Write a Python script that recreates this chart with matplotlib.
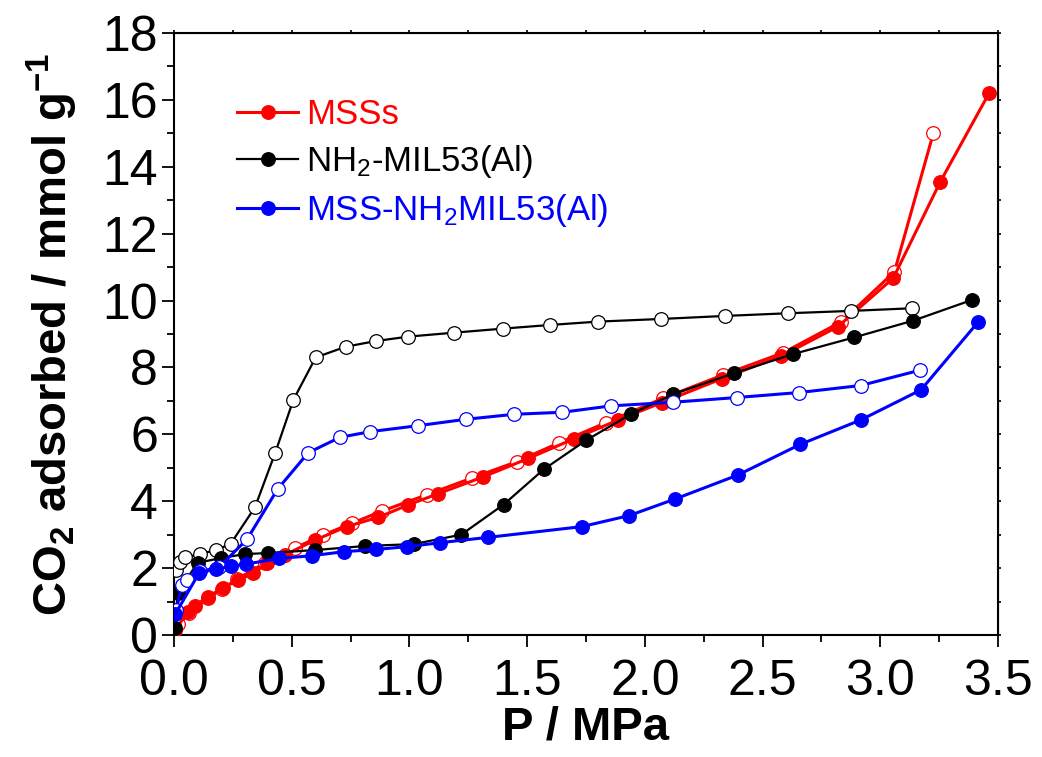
import matplotlib
matplotlib.use("Agg")
import matplotlib.pyplot as plt
from matplotlib.ticker import MultipleLocator

plt.rcParams['font.family'] = ['Liberation Sans', 'DejaVu Sans']
plt.rcParams['mathtext.default'] = 'regular'

# MSSs
mss_ads_p = [0.005, 0.06, 0.09, 0.146, 0.21, 0.273, 0.337, 0.393, 0.47, 0.60, 0.733, 0.868,
             0.995, 1.12, 1.314, 1.505, 1.697, 1.887, 2.072, 2.326, 2.58, 2.82, 3.055, 3.254, 3.462]
mss_ads_q = [0.15, 0.70, 0.88, 1.15, 1.42, 1.64, 1.84, 2.14, 2.39, 2.84, 3.24, 3.52,
             3.89, 4.22, 4.73, 5.28, 5.86, 6.43, 6.95, 7.66, 8.34, 9.22, 10.67, 13.54, 16.2]
mss_des_p = [0.018, 0.065, 0.146, 0.203, 0.266, 0.387, 0.512, 0.634, 0.755, 0.885, 1.073,
             1.264, 1.455, 1.637, 1.835, 2.078, 2.333, 2.588, 2.835, 3.06, 3.226]
mss_des_q = [0.32, 0.65, 1.10, 1.37, 1.66, 2.16, 2.60, 2.99, 3.34, 3.71, 4.19,
             4.69, 5.18, 5.75, 6.35, 7.08, 7.78, 8.44, 9.37, 10.86, 15.02]

# NH2-MIL53(Al)
mil_ads_p = [0.005, 0.015, 0.10, 0.20, 0.30, 0.40, 0.60, 0.81, 1.02, 1.22, 1.40, 1.57,
             1.75, 1.94, 2.12, 2.38, 2.63, 2.89, 3.14, 3.39]
mil_ads_q = [0.20, 1.25, 2.16, 2.30, 2.42, 2.45, 2.54, 2.66, 2.72, 3.00, 3.90, 4.95,
             5.82, 6.60, 7.20, 7.83, 8.40, 8.90, 9.40, 10.02]
mil_des_p = [0.01, 0.025, 0.047, 0.11, 0.177, 0.24, 0.344, 0.43, 0.507, 0.602, 0.73, 0.858,
             0.993, 1.19, 1.396, 1.597, 1.80, 2.07, 2.34, 2.607, 2.874, 3.136]
mil_des_q = [1.94, 2.17, 2.32, 2.42, 2.54, 2.72, 3.82, 5.45, 7.03, 8.30, 8.62, 8.79,
             8.92, 9.04, 9.16, 9.27, 9.37, 9.45, 9.54, 9.62, 9.69, 9.77]

# MSS-NH2MIL53(Al)
comp_ads_p = [0.005, 0.107, 0.178, 0.24, 0.306, 0.447, 0.585, 0.72, 0.86, 0.99, 1.13, 1.335,
              1.732, 1.933, 2.13, 2.394, 2.66, 2.917, 3.173, 3.417]
comp_ads_q = [0.62, 1.86, 1.97, 2.05, 2.12, 2.29, 2.37, 2.49, 2.56, 2.64, 2.76, 2.92,
              3.24, 3.57, 4.07, 4.78, 5.70, 6.43, 7.33, 9.37]
comp_des_p = [0.01, 0.033, 0.054, 0.11, 0.19, 0.31, 0.44, 0.57, 0.705, 0.833, 1.038, 1.24,
              1.446, 1.65, 1.855, 2.12, 2.39, 2.655, 2.917, 3.17]
comp_des_q = [0.75, 1.50, 1.65, 1.90, 2.02, 2.86, 4.36, 5.45, 5.91, 6.08, 6.26, 6.45,
              6.60, 6.66, 6.85, 6.96, 7.10, 7.25, 7.46, 7.92]

labels = ['MSSs', 'NH$_2$-MIL53(Al)', 'MSS-NH$_2$MIL53(Al)']
colors = ['#ff0000', '#000000', '#0000ff']

W, H = 1042, 757
fig = plt.figure(figsize=(W / 100, H / 100), dpi=100)
ax = fig.add_axes([174 / W, 1 - 635 / H, (998 - 174) / W, (635 - 33) / H])

series = [
    (mss_ads_p, mss_ads_q, mss_des_p, mss_des_q, 2.2),
    (mil_ads_p, mil_ads_q, mil_des_p, mil_des_q, 1.6),
    (comp_ads_p, comp_ads_q, comp_des_p, comp_des_q, 2.2),
]
ms = 9.8
handles = []
for (ap, aq, dp, dq, lw), c, lab in zip(series, colors, labels):
    ax.plot(dp, dq, '-o', color=c, lw=lw, ms=ms, mfc='white', mec=c, mew=0.9, zorder=3)
    h, = ax.plot(ap, aq, '-o', color=c, lw=lw, ms=ms, mfc=c, mec=c, mew=0.9, zorder=3)
    handles.append(h)

ax.set_xlim(0, 3.5)
ax.set_ylim(0, 18)
ax.xaxis.set_major_locator(MultipleLocator(0.5))
ax.xaxis.set_minor_locator(MultipleLocator(0.25))
ax.yaxis.set_major_locator(MultipleLocator(2))
ax.yaxis.set_minor_locator(MultipleLocator(1))
ax.xaxis.set_major_formatter(matplotlib.ticker.FormatStrFormatter('%.1f'))

for s in ax.spines.values():
    s.set_linewidth(1.5)
ax.tick_params(which='major', direction='out', length=8.5, width=1.3,
               labelsize=36, pad=3)
ax.tick_params(axis='x', which='major', pad=9)
ax.tick_params(which='minor', direction='out', length=5, width=1.3)

sx = ax.secondary_xaxis('top')
sx.xaxis.set_major_locator(MultipleLocator(0.25))
sx.tick_params(direction='out', length=2.5, width=1.2, labeltop=False)
sy = ax.secondary_yaxis('right')
sy.yaxis.set_major_locator(MultipleLocator(1))
sy.tick_params(direction='out', length=2.5, width=1.2, labelright=False)

ax.set_xlabel('P / MPa', fontsize=34, fontweight='bold', labelpad=0)
ax.set_ylabel('CO$_2$ adsorbed / mmol g$^{-1}$', fontsize=34, fontweight='bold', labelpad=16)

leg = ax.legend(handles=handles, labels=labels, loc='upper left',
                bbox_to_anchor=(0.06, 0.915), frameon=False, fontsize=25,
                handlelength=1.75, handletextpad=0.23, labelspacing=0.35,
                labelcolor='linecolor', borderaxespad=0)

fig.savefig('out.png', dpi=100)
